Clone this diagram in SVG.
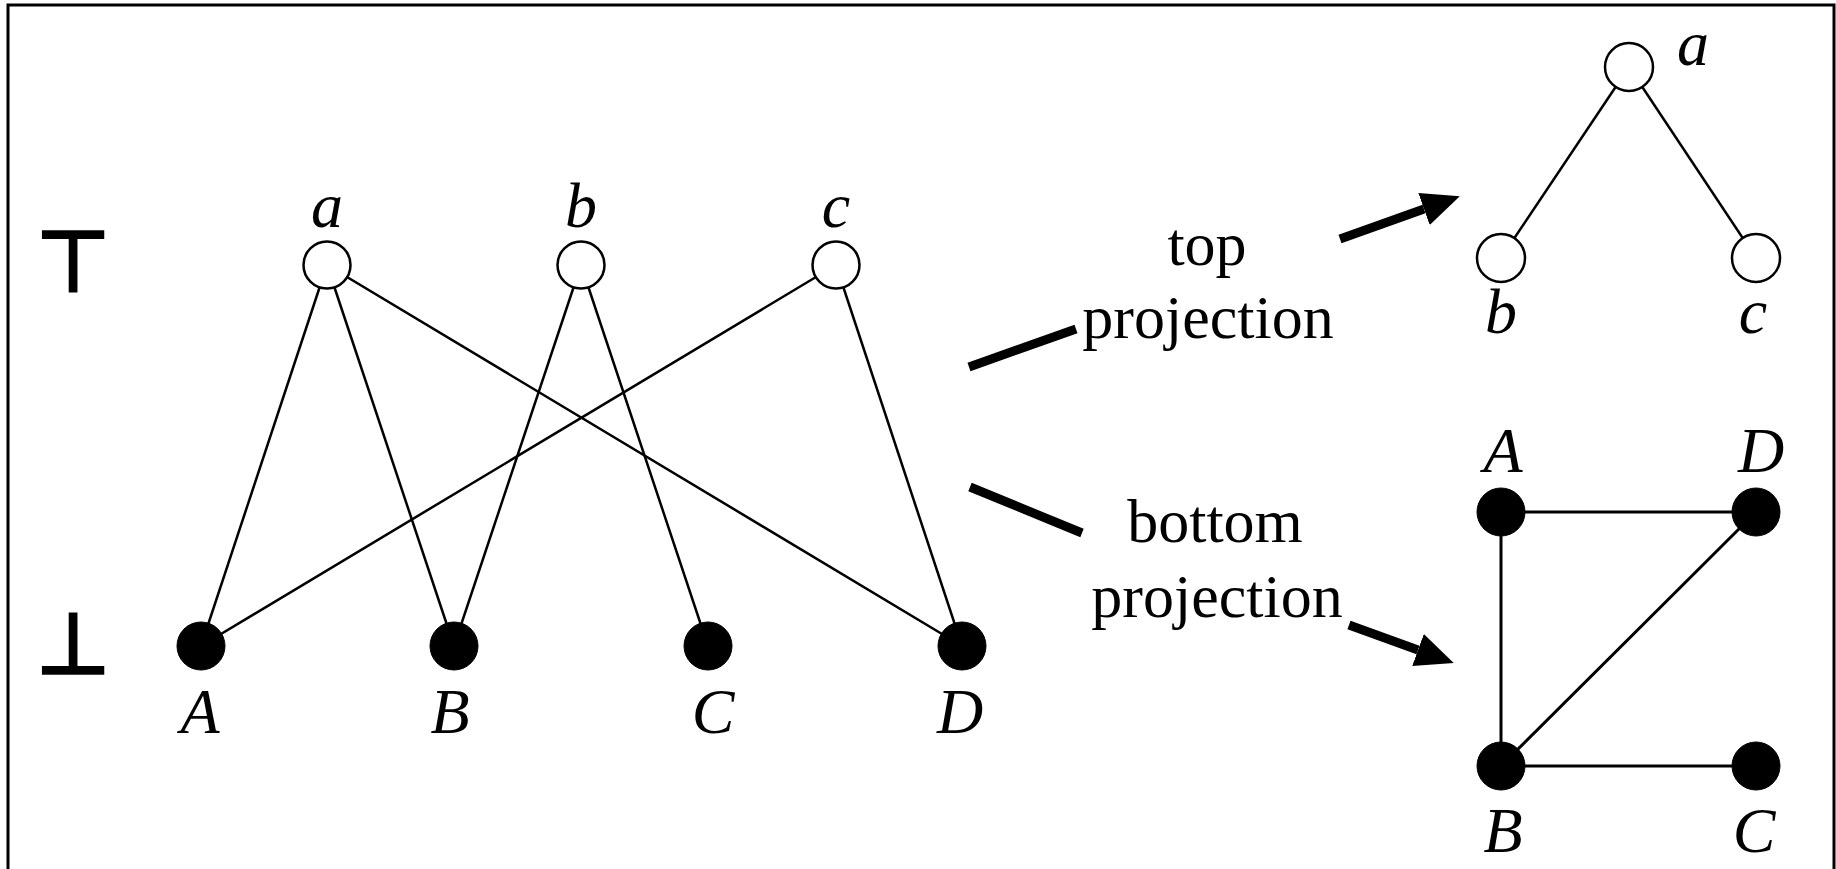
<svg xmlns="http://www.w3.org/2000/svg" width="1836" height="869" viewBox="0 0 1836 869">
<style>
.lbl{font-family:"Liberation Serif","Times New Roman",serif;font-style:italic;font-size:64px;fill:#000;text-anchor:middle}
.txt{font-family:"Liberation Serif","Times New Roman",serif;font-size:62px;fill:#000;text-anchor:middle}
.sym{font-family:"DejaVu Sans",sans-serif;font-size:84px;fill:#000;stroke:#000;stroke-width:3.5;text-anchor:middle}
.e{stroke:#000;stroke-width:2.5;fill:none}
.e2{stroke:#000;stroke-width:3;fill:none}
.open{fill:#fff;stroke:#000;stroke-width:2.5}
.full{fill:#000;stroke:#000;stroke-width:1}
.thick{stroke:#000;stroke-width:9;fill:none}
</style>
<defs>
<marker id="head" markerUnits="userSpaceOnUse" markerWidth="40" markerHeight="34" refX="0" refY="17" orient="auto" viewBox="0 0 40 34">
<path d="M0,0 L38,17 L0,34 Z" fill="#000"/>
</marker>
</defs>
<rect x="0" y="0" width="1836" height="869" fill="#fff"/>
<path d="M8,869 L8,5 L1834,5 L1834,869" fill="none" stroke="#000" stroke-width="3"/>

<text class="sym" x="73" y="291">⊤</text>
<text class="sym" x="73" y="673">⊥</text>

<g id="connectors">
<line class="e" x1="327" y1="265" x2="201" y2="646"/>
<line class="e" x1="327" y1="265" x2="454" y2="646"/>
<line class="e" x1="327" y1="265" x2="962" y2="646"/>
<line class="e" x1="581" y1="265" x2="454" y2="646"/>
<line class="e" x1="581" y1="265" x2="708" y2="646"/>
<line class="e" x1="836" y1="265" x2="201" y2="646"/>
<line class="e" x1="836" y1="265" x2="962" y2="646"/>
<line class="e" x1="1629" y1="67" x2="1501" y2="258"/>
<line class="e" x1="1629" y1="67" x2="1756" y2="258"/>
<line class="e2" x1="1501" y1="512" x2="1756" y2="512"/>
<line class="e2" x1="1501" y1="512" x2="1501" y2="766"/>
<line class="e2" x1="1501" y1="766" x2="1756" y2="512"/>
<line class="e2" x1="1501" y1="766" x2="1756" y2="766"/>
<line class="thick" x1="969" y1="367" x2="1076" y2="329"/>
<line class="thick" x1="1340" y1="239" x2="1424" y2="209" marker-end="url(#head)"/>
<line class="thick" x1="970" y1="487" x2="1082" y2="533"/>
<line class="thick" x1="1349" y1="625" x2="1418" y2="650" marker-end="url(#head)"/>
</g>

<g id="node-a"><circle class="open" cx="327" cy="265" r="23.5"/><text class="lbl" x="327" y="227">a</text></g>
<g id="node-b"><circle class="open" cx="581" cy="265" r="23.5"/><text class="lbl" x="581" y="227">b</text></g>
<g id="node-c"><circle class="open" cx="836" cy="265" r="23.5"/><text class="lbl" x="836" y="227">c</text></g>
<g id="node-A"><circle class="full" cx="201" cy="646" r="24"/><text class="lbl" x="200" y="733">A</text></g>
<g id="node-B"><circle class="full" cx="454" cy="646" r="24"/><text class="lbl" x="450" y="733">B</text></g>
<g id="node-C"><circle class="full" cx="708" cy="646" r="24"/><text class="lbl" x="713" y="733">C</text></g>
<g id="node-D"><circle class="full" cx="962" cy="646" r="24"/><text class="lbl" x="960" y="733">D</text></g>

<g id="label-top"><text class="txt" x="1207" y="265">top</text><text class="txt" x="1208" y="338">projection</text></g>
<g id="label-bottom"><text class="txt" x="1215" y="542">bottom</text><text class="txt" x="1217" y="617">projection</text></g>

<g id="top-a"><circle class="open" cx="1629" cy="67" r="24"/><text class="lbl" x="1693" y="65">a</text></g>
<g id="top-b"><circle class="open" cx="1501" cy="258" r="24"/><text class="lbl" x="1501" y="333">b</text></g>
<g id="top-c"><circle class="open" cx="1756" cy="258" r="24"/><text class="lbl" x="1753" y="333">c</text></g>

<g id="bot-A"><circle class="full" cx="1501" cy="512" r="24"/><text class="lbl" x="1503" y="472">A</text></g>
<g id="bot-D"><circle class="full" cx="1756" cy="512" r="24"/><text class="lbl" x="1761" y="472">D</text></g>
<g id="bot-B"><circle class="full" cx="1501" cy="766" r="24"/><text class="lbl" x="1503" y="852">B</text></g>
<g id="bot-C"><circle class="full" cx="1756" cy="766" r="24"/><text class="lbl" x="1754" y="852">C</text></g>
</svg>
